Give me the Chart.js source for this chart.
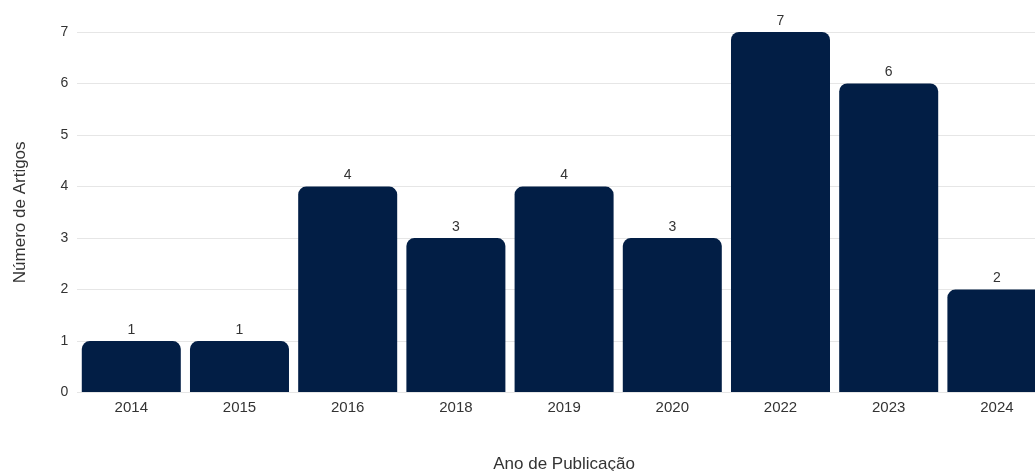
<!DOCTYPE html>
<html>
<head>
<meta charset="utf-8">
<script src="https://cdn.jsdelivr.net/npm/chart.js@4"></script>
<style>
  html, body { margin: 0; padding: 0; background: #fff; overflow: hidden; }
  #wrap { width: 1051px; height: 471px; position: relative; }
</style>
</head>
<body>
<div id="wrap"><canvas id="chart"></canvas></div>
<script>
var anos = ['2014', '2015', '2016', '2018', '2019', '2020', '2022', '2023', '2024'];
var artigos = [1, 1, 4, 3, 4, 3, 7, 6, 2];
var yTicks = [0, 1, 2, 3, 4, 5, 6, 7];

var fonte = '"Liberation Sans", Arial, sans-serif';

// rotulos em cima das barras
var barLabels = {
    id: 'barLabels',
    afterDatasetsDraw: function(chart){
        var ctx = chart.ctx;
        var meta = chart.getDatasetMeta(0);
        ctx.save();
        ctx.fillStyle = '#333';
        ctx.font = '14px ' + fonte;
        ctx.textAlign = 'center';
        ctx.textBaseline = 'bottom';
        meta.data.forEach(function(bar, i){
            ctx.fillText(String(artigos[i]), bar.x, bar.y - 4);
        });
        ctx.restore();
    }
};

var context = document.getElementById('chart').getContext('2d');
var myChart = new Chart(context, {
    type: 'bar',
    data: {
        labels: anos,
        datasets: [{
            data: artigos,
            backgroundColor: '#021e45',
            borderRadius: { topLeft: 8, topRight: 8, bottomLeft: 0, bottomRight: 0 },
            borderSkipped: false,
            barPercentage: 0.915,
            categoryPercentage: 1.0
        }]
    },
    options: {
        responsive: true,
        maintainAspectRatio: false,
        animation: false,
        layout: { padding: { top: 32, left: 10, right: 0, bottom: -4 } },
        plugins: {
            legend: { display: false },
            tooltip: { enabled: false }
        },
        scales: {
            x: {
                grid: { display: false, drawTicks: false },
                border: { display: false },
                ticks: {
                    color: '#333',
                    padding: 6,
                    font: { family: fonte, size: 15 }
                },
                title: {
                    display: true,
                    text: 'Ano de Publicação',
                    color: '#333',
                    padding: { top: 32, bottom: 0 },
                    font: { family: fonte, size: 17 }
                }
            },
            y: {
                min: 0,
                max: 7,
                afterBuildTicks: function(axis){
                    axis.ticks = yTicks.map(function(v){ return { value: v }; });
                },
                grid: { color: '#e6e6e6', drawTicks: false },
                border: { display: false },
                ticks: {
                    color: '#333',
                    padding: 9,
                    font: { family: fonte, size: 14 }
                },
                title: {
                    display: true,
                    text: 'Número de Artigos',
                    color: '#333',
                    padding: { top: 0, bottom: 21 },
                    font: { family: fonte, size: 17 }
                }
            }
        }
    },
    plugins: [barLabels]
});
</script>
</body>
</html>
